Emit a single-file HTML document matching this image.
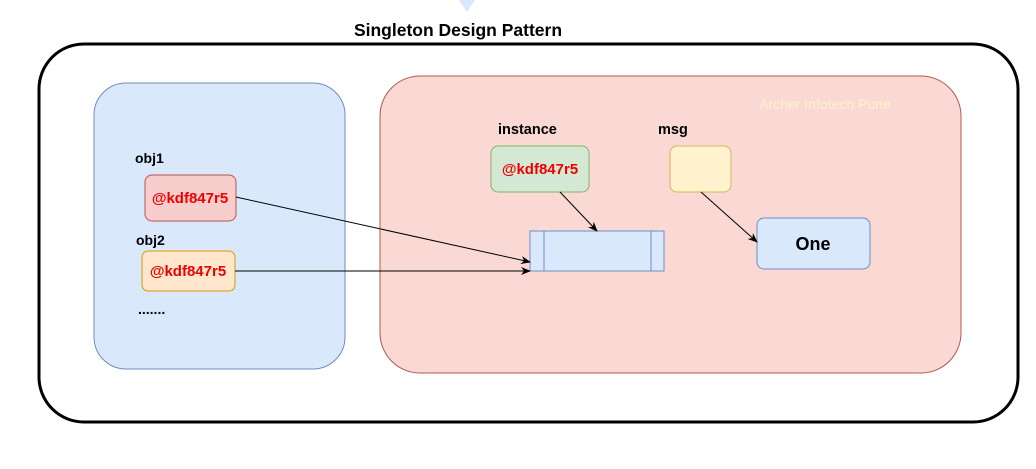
<!DOCTYPE html>
<html><head><meta charset="utf-8"><style>
html,body{margin:0;padding:0;background:#fff;width:1036px;height:469px;overflow:hidden}
svg{display:block}
text{font-family:"Liberation Sans",Arial,sans-serif;font-weight:bold}
</style></head><body>
<svg width="1036" height="469" viewBox="0 0 1036 469" xmlns="http://www.w3.org/2000/svg">
<defs><marker id="a" markerWidth="10" markerHeight="8" refX="9" refY="4" orient="auto" markerUnits="userSpaceOnUse"><path d="M0,0 L10,4 L0,8 L3,4 Z" fill="#000"/></marker></defs>
<polygon points="459,0 475,0 467,12" fill="#dae8fc"/>
<text x="458" y="36" font-size="17.5" text-anchor="middle" fill="#000">Singleton Design Pattern</text>
<rect x="39" y="44" width="979" height="378" rx="45" fill="#fff" stroke="#000" stroke-width="3"/>
<rect x="94" y="83" width="251" height="286" rx="32" fill="#dae8fc" stroke="#6c8ebf"/>
<rect x="380" y="76" width="581" height="297" rx="40" fill="#fad9d5" stroke="#b85450"/>
<text x="825" y="109" font-size="14" style="font-weight:normal" text-anchor="middle" fill="#fff2cc">Archer Infotech Pune</text>
<text x="135" y="163" font-size="14" fill="#000">obj1</text>
<rect x="145" y="175" width="91" height="46" rx="7" fill="#f8cecc" stroke="#b85450"/>
<text x="190" y="203" font-size="15" text-anchor="middle" fill="#e00">@kdf847r5</text>
<text x="136" y="245" font-size="14" fill="#000">obj2</text>
<rect x="142" y="251" width="93" height="40" rx="6" fill="#ffe6cc" stroke="#d79b00"/>
<text x="188" y="276" font-size="15" text-anchor="middle" fill="#e00">@kdf847r5</text>
<text x="138" y="314" font-size="14" fill="#000">.......</text>
<text x="498" y="134" font-size="14.5" fill="#000">instance</text>
<rect x="491" y="146" width="98" height="46" rx="7" fill="#d5e8d4" stroke="#82b366"/>
<text x="540" y="174" font-size="15" text-anchor="middle" fill="#e00">@kdf847r5</text>
<text x="658" y="134" font-size="14.5" fill="#000">msg</text>
<rect x="670" y="146" width="61" height="46" rx="7" fill="#fff2cc" stroke="#d6b656"/>
<rect x="530" y="231" width="134" height="40" fill="#dae8fc" stroke="#6c8ebf"/>
<line x1="544" y1="231" x2="544" y2="271" stroke="#6c8ebf"/>
<line x1="651" y1="231" x2="651" y2="271" stroke="#6c8ebf"/>
<rect x="757" y="218" width="113" height="51" rx="7" fill="#dae8fc" stroke="#6c8ebf"/>
<text x="813" y="250" font-size="18" text-anchor="middle" fill="#000">One</text>
<line x1="236" y1="197" x2="530" y2="262" stroke="#000" marker-end="url(#a)"/>
<line x1="235" y1="271" x2="530" y2="271" stroke="#000" marker-end="url(#a)"/>
<line x1="560" y1="192" x2="597" y2="231" stroke="#000" marker-end="url(#a)"/>
<line x1="701" y1="192" x2="757" y2="242" stroke="#000" marker-end="url(#a)"/>
</svg>
</body></html>
